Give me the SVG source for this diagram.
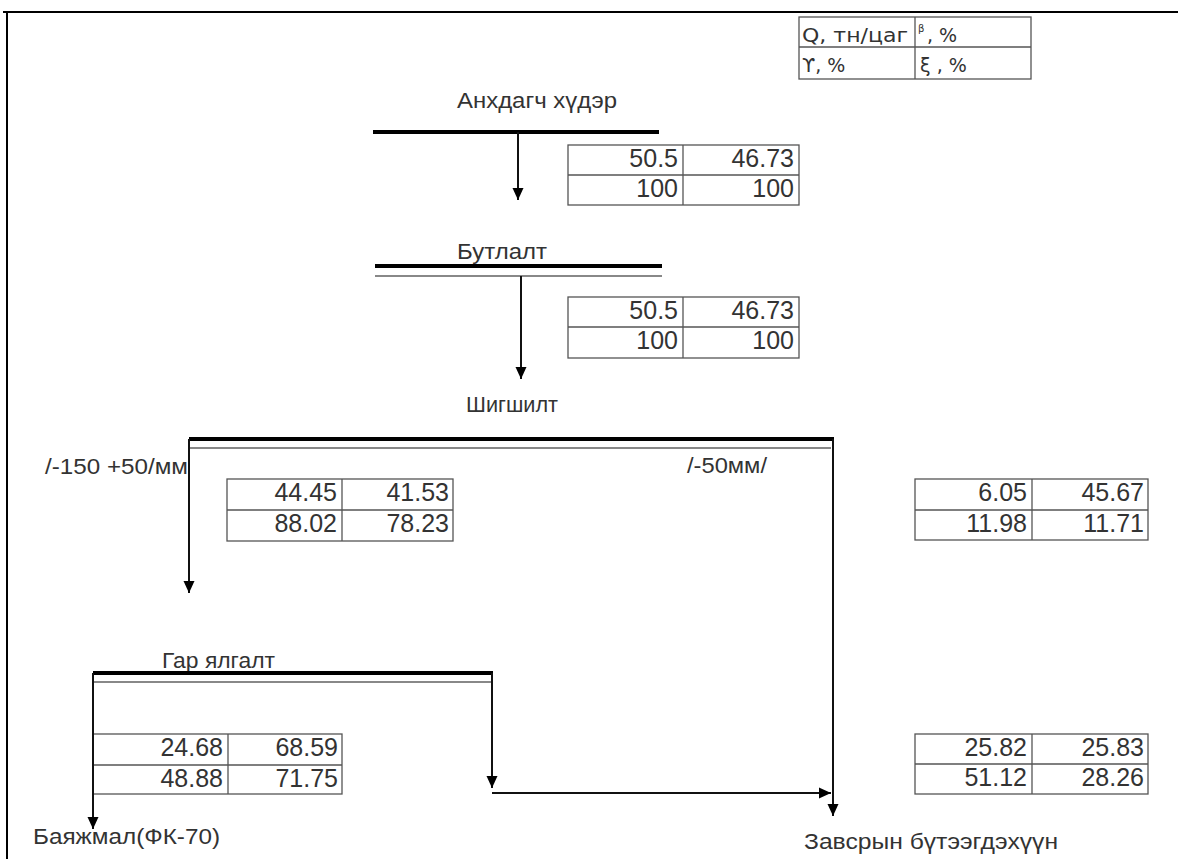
<svg xmlns="http://www.w3.org/2000/svg" width="1178" height="859" viewBox="0 0 1178 859">
<defs>
<marker id="ah" markerUnits="userSpaceOnUse" markerWidth="12" markerHeight="12" viewBox="0 0 12 12" refX="12" refY="6" orient="auto">
<path d="M0,0.5 L12,6 L0,11.5 Z" fill="#000"/>
</marker>
<style>
.lbl{font-family:"Liberation Sans",Arial,sans-serif;font-size:22px;fill:#333}
.num{font-family:"Liberation Sans",Arial,sans-serif;font-size:25px;fill:#333;text-anchor:end}
.leg{font-family:"DejaVu Sans","Liberation Sans",sans-serif;font-size:19px;fill:#333}
.cell{fill:none;stroke:#555;stroke-width:1.3}
.thick{stroke:#000;stroke-width:4;fill:none}
.thin{stroke:#888;stroke-width:2;fill:none}
.flow{stroke:#111;stroke-width:2;fill:none;marker-end:url(#ah)}
.frame{stroke:#000;stroke-width:2;fill:none}
</style>
</defs>
<rect width="1178" height="859" fill="#fff"/>
<path class="frame" d="M3,12 H1178 M7,12 V859"/>

<g id="legend">
<rect class="cell" x="799" y="17" width="232" height="62"/>
<line class="cell" x1="799" y1="47" x2="1031" y2="47"/>
<line class="cell" x1="915" y1="17" x2="915" y2="79"/>
<text class="leg" x="802" y="42" textLength="106" lengthAdjust="spacingAndGlyphs">Q, тн/цаг</text>
<text class="leg" x="918" y="32" style="font-size:10px">β</text>
<text class="leg" x="927" y="42">, %</text>
<text class="leg" x="802" y="72">ϒ, %</text>
<text class="leg" x="920" y="72">ξ , %</text>
</g>

<g id="node-ore">
<text class="lbl" x="457" y="108" textLength="160" lengthAdjust="spacingAndGlyphs">Анхдагч хүдэр</text>
<line class="thick" x1="373" y1="132" x2="659" y2="132"/>
</g>
<g id="table-ore">
<rect class="cell" x="568" y="145" width="231" height="60"/>
<line class="cell" x1="568" y1="175" x2="799" y2="175"/>
<line class="cell" x1="683" y1="145" x2="683" y2="205"/>
<text class="num" x="678" y="167">50.5</text>
<text class="num" x="794" y="167">46.73</text>
<text class="num" x="678" y="197">100</text>
<text class="num" x="794" y="197">100</text>
</g>

<g id="node-crush">
<text class="lbl" x="457" y="259" textLength="90" lengthAdjust="spacingAndGlyphs">Бутлалт</text>
<line class="thick" x1="375" y1="266" x2="662" y2="266"/>
<line class="thin" x1="375" y1="276" x2="662" y2="276"/>
</g>
<g id="table-crush">
<rect class="cell" x="568" y="297" width="231" height="61"/>
<line class="cell" x1="568" y1="327" x2="799" y2="327"/>
<line class="cell" x1="683" y1="297" x2="683" y2="358"/>
<text class="num" x="678" y="319">50.5</text>
<text class="num" x="794" y="319">46.73</text>
<text class="num" x="678" y="349">100</text>
<text class="num" x="794" y="349">100</text>
</g>

<g id="node-screen">
<text class="lbl" x="466" y="412" textLength="92" lengthAdjust="spacingAndGlyphs">Шигшилт</text>
<line class="thick" x1="189" y1="439" x2="834" y2="439"/>
<line class="thin" x1="189" y1="448" x2="831" y2="448"/>
<text class="lbl" x="45" y="474" textLength="143" lengthAdjust="spacingAndGlyphs">/-150 +50/мм</text>
<text class="lbl" x="687" y="473" textLength="80" lengthAdjust="spacingAndGlyphs">/-50мм/</text>
</g>
<g id="table-oversize">
<rect class="cell" x="227" y="479" width="226" height="62"/>
<line class="cell" x1="227" y1="510" x2="453" y2="510"/>
<line class="cell" x1="342" y1="479" x2="342" y2="541"/>
<text class="num" x="337" y="501">44.45</text>
<text class="num" x="449" y="501">41.53</text>
<text class="num" x="337" y="532">88.02</text>
<text class="num" x="449" y="532">78.23</text>
</g>
<g id="table-undersize">
<rect class="cell" x="915" y="479" width="233" height="61"/>
<line class="cell" x1="915" y1="510" x2="1148" y2="510"/>
<line class="cell" x1="1032" y1="479" x2="1032" y2="540"/>
<text class="num" x="1027" y="501">6.05</text>
<text class="num" x="1144" y="501">45.67</text>
<text class="num" x="1027" y="532">11.98</text>
<text class="num" x="1144" y="532">11.71</text>
</g>

<g id="node-sort">
<text class="lbl" x="162" y="668" textLength="113" lengthAdjust="spacingAndGlyphs">Гар ялгалт</text>
<line class="thick" x1="93" y1="673" x2="493" y2="673"/>
<line class="thin" x1="93" y1="682" x2="492" y2="682"/>
</g>
<g id="table-concentrate">
<rect class="cell" x="93" y="734" width="249" height="60"/>
<line class="cell" x1="93" y1="765" x2="342" y2="765"/>
<line class="cell" x1="228" y1="734" x2="228" y2="794"/>
<text class="num" x="223" y="756">24.68</text>
<text class="num" x="338" y="756">68.59</text>
<text class="num" x="223" y="787">48.88</text>
<text class="num" x="338" y="787">71.75</text>
</g>
<g id="table-middlings">
<rect class="cell" x="915" y="734" width="233" height="60"/>
<line class="cell" x1="915" y1="764" x2="1148" y2="764"/>
<line class="cell" x1="1032" y1="734" x2="1032" y2="794"/>
<text class="num" x="1027" y="756">25.82</text>
<text class="num" x="1144" y="756">25.83</text>
<text class="num" x="1027" y="786">51.12</text>
<text class="num" x="1144" y="786">28.26</text>
</g>

<g id="node-concentrate">
<text class="lbl" x="33" y="844" textLength="187" lengthAdjust="spacingAndGlyphs">Баяжмал(ФК-70)</text>
</g>
<g id="node-middlings">
<text class="lbl" x="804" y="849" textLength="254" lengthAdjust="spacingAndGlyphs">Завсрын бүтээгдэхүүн</text>
</g>

<g id="connectors">
<line class="flow" x1="518" y1="132" x2="518" y2="200"/>
<line class="flow" x1="521" y1="276" x2="521" y2="379"/>
<line class="flow" x1="189" y1="439" x2="189" y2="593"/>
<line class="flow" x1="833" y1="439" x2="833" y2="816"/>
<line class="flow" x1="93" y1="673" x2="93" y2="829"/>
<line class="flow" x1="492" y1="673" x2="492" y2="788"/>
<line class="flow" x1="492" y1="793" x2="831" y2="793"/>
</g>
</svg>
